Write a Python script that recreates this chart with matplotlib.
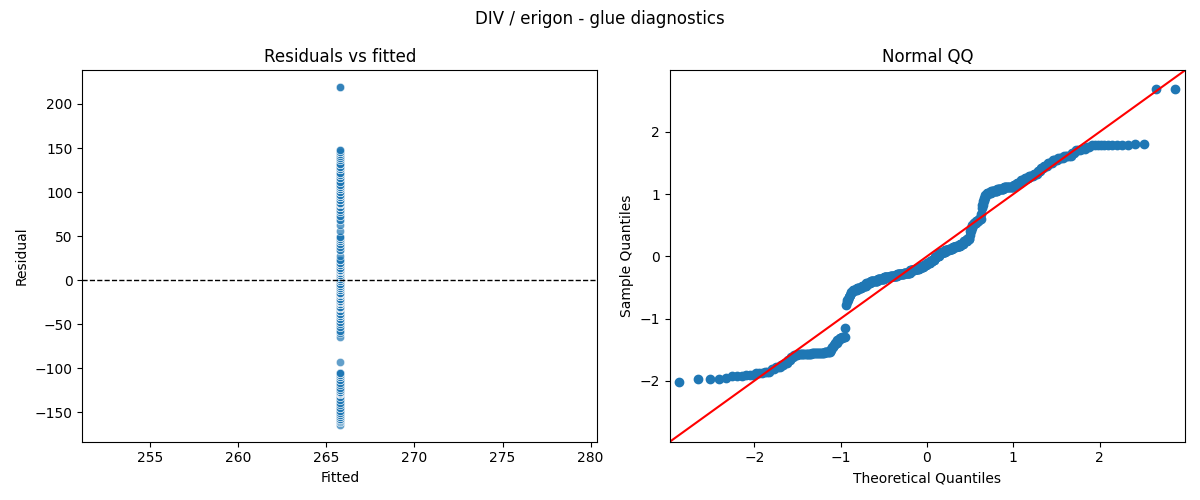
#!/usr/bin/env python3

from statistics import NormalDist
import numpy as np
import matplotlib
matplotlib.use("Agg")
import matplotlib.pyplot as plt
import seaborn as sns

# residual levels (y - mean), with how many rows sit at each
resid_levels = [-164, -161, -160, -159, -157, -155, -153, -151, -148, -145,
                -142, -139, -136, -132, -129, -128, -127, -125, -122, -119,
                -116, -113, -110, -107, -105, -93, -64, -60, -57, -53,
                -50, -47, -44, -41, -38, -35, -32, -30, -27, -25,
                -23, -21, -18, -16, -14, -11, -9, -6, -4, -1,
                1, 4, 6, 8, 10, 12, 14, 17, 20, 23,
                28, 34, 38, 41, 44, 47, 49, 56, 63, 68,
                73, 77, 80, 83, 86, 88, 91, 94, 97, 100,
                103, 106, 108, 112, 116, 119, 122, 126, 129, 132,
                136, 139, 141, 143, 146, 148, 219]
resid_counts = [1, 2, 1, 1, 3, 3, 3, 3, 2, 3,
                2, 2, 2, 2, 3, 12, 13, 7, 2, 2,
                2, 3, 3, 4, 4, 1, 1, 1, 2, 2,
                2, 3, 7, 8, 8, 8, 13, 13, 13, 15,
                15, 14, 10, 10, 11, 7, 8, 5, 5, 5,
                6, 6, 8, 8, 8, 8, 9, 7, 7, 6,
                1, 2, 2, 3, 5, 5, 4, 1, 1, 2,
                2, 2, 3, 8, 10, 11, 14, 5, 5, 5,
                5, 5, 4, 3, 3, 4, 4, 4, 4, 5,
                2, 3, 2, 2, 10, 2, 2]
fitted_value = 265.77  # intercept-only model, so every fitted value is the mean


def main():
    resid = np.repeat(np.array(resid_levels, dtype=float), resid_counts)
    fitted = np.full(len(resid), fitted_value)

    fig, (ax1, ax2) = plt.subplots(1, 2, figsize=(12, 5), dpi=100)

    # Residuals vs fitted
    sns.scatterplot(x=fitted, y=resid, alpha=0.7, ax=ax1)
    ax1.axhline(0, color="black", linestyle="--", linewidth=1)
    ax1.set_xlabel("Fitted")
    ax1.set_ylabel("Residual")
    ax1.set_title("Residuals vs fitted")

    # Normal QQ (standardised sample vs normal quantiles, 45 degree line)
    n = len(resid)
    nd = NormalDist()
    theo = np.array([nd.inv_cdf(i / (n + 1)) for i in range(1, n + 1)])
    sample = (np.sort(resid) - resid.mean()) / resid.std()
    ax2.plot(theo, sample, marker="o", linestyle="none",
             markerfacecolor="C0", markeredgecolor="C0")
    lims = (-2.98, 2.99)
    ax2.plot(lims, lims, color="r")
    ax2.set_xlim(lims)
    ax2.set_ylim(lims)
    ax2.set_xlabel("Theoretical Quantiles")
    ax2.set_ylabel("Sample Quantiles")
    ax2.set_title("Normal QQ")

    fig.suptitle("DIV / erigon - glue diagnostics")
    fig.tight_layout()
    fig.savefig("out.png", dpi=100)


if __name__ == '__main__':
    main()
